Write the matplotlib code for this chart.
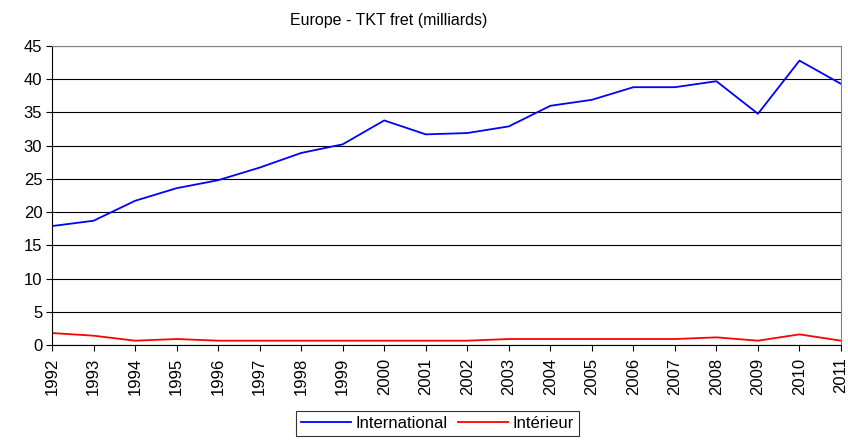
import numpy as np
import matplotlib.pyplot as plt

plt.rcParams['font.family'] = ['Liberation Sans', 'DejaVu Sans']

annees = list(range(1992, 2012))
international = [17.9, 18.7, 21.7, 23.6, 24.8, 26.7, 28.9, 30.2, 33.8, 31.7,
                 31.9, 32.9, 36.0, 36.9, 38.8, 38.8, 39.7, 34.8, 42.8, 39.3]
interieur = [1.8, 1.4, 0.65, 0.9, 0.65, 0.65, 0.65, 0.65, 0.65, 0.65,
             0.65, 0.9, 0.9, 0.9, 0.9, 0.9, 1.15, 0.65, 1.6, 0.65]

fig = plt.figure(figsize=(8.48, 4.41), dpi=100)
ax = fig.add_axes([52 / 848, 1 - 345 / 441, 789 / 848, 299 / 441])

x = np.arange(len(annees))
ax.plot(x, international, color='#0000ff', lw=1.3, label='International')
ax.plot(x, interieur, color='#ff0000', lw=1.3, label='Intérieur')

ax.set_xlim(0, len(annees) - 1)
ax.set_ylim(0, 45)
ax.set_yticks(range(0, 46, 5))
ax.set_xticks(x)
ax.set_xticklabels([str(a) for a in annees], rotation=90, fontsize=12)
ax.tick_params(axis='y', labelsize=12, length=4, width=0.8, pad=3)
ax.tick_params(axis='x', length=4, width=0.8, pad=5)

ax.grid(axis='y', color='black', lw=0.8)
ax.set_axisbelow(True)
for s in ['top', 'right']:
    ax.spines[s].set_color('#808080')
for s in ['left', 'bottom']:
    ax.spines[s].set_color('black')

fig.text(389 / 848, 1 - 21 / 441, 'Europe - TKT fret (milliards)',
         ha='center', va='center', fontsize=11.5)

leg = fig.legend(loc='upper center', bbox_to_anchor=(437.5 / 848, 1 - 411 / 441),
                 ncol=2, frameon=True, fancybox=False, fontsize=12,
                 handlelength=3, columnspacing=0.6, handletextpad=0.3,
                 borderpad=0.3, borderaxespad=0)
leg.get_frame().set_edgecolor('black')
leg.get_frame().set_linewidth(0.8)

fig.savefig('out.png', dpi=100)
